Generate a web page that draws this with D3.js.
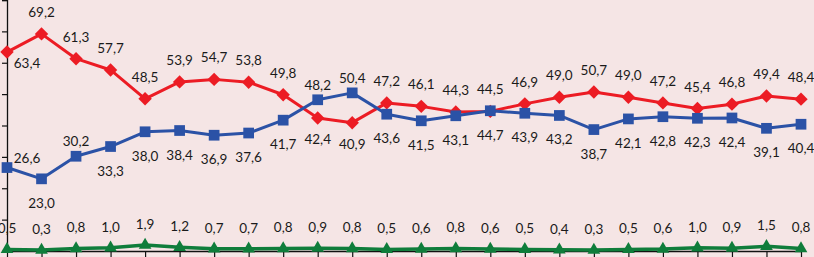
<!DOCTYPE html>
<html>
<head>
<meta charset="utf-8">
<script src="https://cdn.jsdelivr.net/npm/d3@7"></script>
<style>
  html, body { margin: 0; padding: 0; background: #f5e5e5; }
  svg { display: block; }
  text { font-family: Lato, "Open Sans", sans-serif; }
</style>
</head>
<body>
<div id="chart"></div>
<script>
const categories = ["1","2","3","4","5","6","7","8","9","10","11","12","13","14","15","16","17","18","19","20","21","22","23","24"];
const redValues   = [63.4,69.2,61.3,57.7,48.5,53.9,54.7,53.8,49.8,42.4,40.9,47.2,46.1,44.3,44.5,46.9,49.0,50.7,49.0,47.2,45.4,46.8,49.4,48.4];
const blueValues  = [26.6,23.0,30.2,33.3,38.0,38.4,36.9,37.6,41.7,48.2,50.4,43.6,41.5,43.1,44.7,43.9,43.2,38.7,42.1,42.8,42.3,42.4,39.1,40.4];
const greenValues = [0.5,0.3,0.8,1.0,1.9,1.2,0.7,0.7,0.8,0.9,0.8,0.5,0.6,0.8,0.6,0.5,0.4,0.3,0.5,0.6,1.0,0.9,1.5,0.8];
const yTicks = [0,10,20,30,40,50,60,70,80];

const W = 814, H = 257;
const svg = d3.select("#chart").append("svg").attr("width", W).attr("height", H);
svg.append("rect").attr("width", W).attr("height", H).attr("fill", "#f5e5e5");

const x = d3.scalePoint().domain(categories).range([7, 801]);
const y = d3.scaleLinear().domain([0, 80]).range([251, 0]);
const fmt = v => d3.format(".1f")(v).replace(".", ",");

// axes
svg.append("g").attr("transform", "translate(7,0)")
  .call(d3.axisLeft(y).tickValues(yTicks).tickSize(5).tickFormat(""))
  .call(g => g.select(".domain").attr("stroke", "#111").attr("stroke-width", 1.3))
  .call(g => g.selectAll(".tick line").attr("stroke", "#111").attr("stroke-width", 1.2));
svg.append("g").attr("transform", "translate(0," + y(0) + ")")
  .call(d3.axisBottom(x).tickSize(7).tickFormat("").tickSizeOuter(0))
  .call(g => g.select(".domain").attr("stroke", "#111").attr("stroke-width", 1.3))
  .call(g => g.selectAll(".tick line").attr("stroke", "#111").attr("stroke-width", 1.2));

const line = d3.line().x((d, i) => x(categories[i])).y(d => y(d));

function drawSeries(vals, color, symType, size, width, rotate) {
  svg.append("path").datum(vals).attr("d", line)
    .attr("fill", "none").attr("stroke", color).attr("stroke-width", width)
    .attr("stroke-linejoin", "round");
  svg.append("g").selectAll("path").data(vals).join("path")
    .attr("transform", (d, i) => `translate(${x(categories[i])},${y(d)}) rotate(${rotate})`)
    .attr("d", d3.symbol().type(symType).size(size))
    .attr("fill", color);
}

drawSeries(redValues, "#ec1c24", d3.symbolSquare, 90, 3, 45);
drawSeries(blueValues, "#2b52a6", d3.symbolSquare, 115, 3, 0);
drawSeries(greenValues, "#0f7d3b", d3.symbolTriangle, 70, 3.5, 0);

function labels(vals, offsetFn) {
  svg.append("g").selectAll("text").data(vals).join("text")
    .attr("x", (d, i) => x(categories[i]) + offsetFn(d, i)[0])
    .attr("y", (d, i) => y(d) + offsetFn(d, i)[1])
    .attr("text-anchor", "middle")
    .attr("dominant-baseline", "central")
    .attr("font-size", 13.5)
    .attr("fill", "#1a1a1a")
    .text(d => fmt(d));
}

labels(redValues, (d, i) => {
  if (i === 0) return [20, 11];
  return blueValues[i] - d > 2 ? [0, 21] : [0, -22];
});
labels(blueValues, (d, i) => {
  if (i === 0) return [20, -10];
  if (i === 2 || d - redValues[i] > 2) return [0, -15];
  return [0, 24];
});
labels(greenValues, (d, i) => [0, -21]);
</script>
</body>
</html>
